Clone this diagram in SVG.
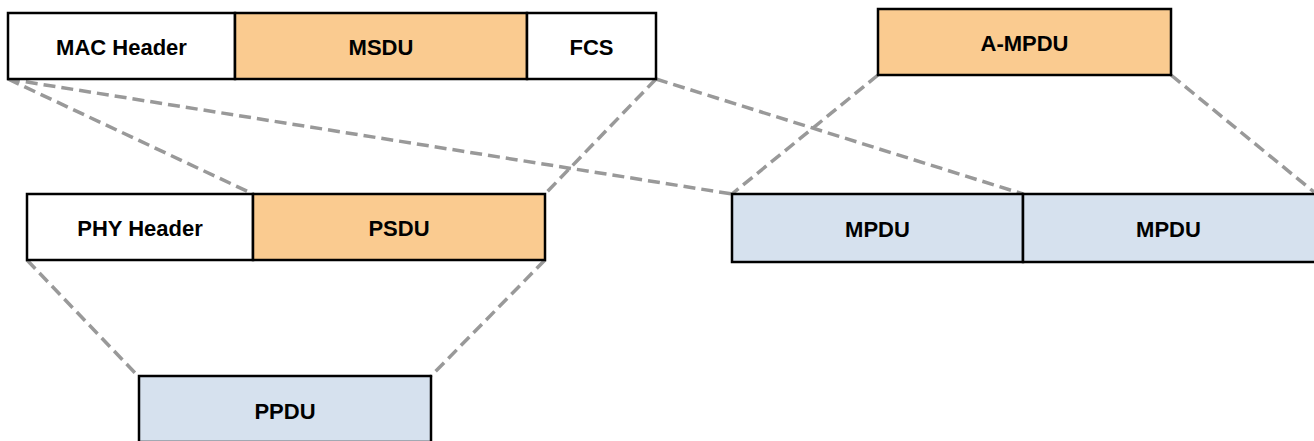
<svg xmlns="http://www.w3.org/2000/svg" width="1314" height="441" viewBox="0 0 1314 441">
<style>
.box{stroke:#000;stroke-width:2.5}
.w{fill:#fff}
.o{fill:#FACB90}
.b{fill:#D6E1EE}
.t{font-family:"Liberation Sans",Arial,sans-serif;font-weight:bold;font-size:22px;fill:#000;text-anchor:middle}
.c{stroke:#999;stroke-width:3.5;stroke-dasharray:12 6;fill:none}
</style>
<rect width="1314" height="441" fill="#fff"/>
<g id="connectors">
<line class="c" x1="8" y1="79" x2="253" y2="194"/>
<line class="c" x1="8" y1="79" x2="732" y2="194"/>
<line class="c" x1="656" y1="79" x2="545" y2="194"/>
<line class="c" x1="656" y1="79" x2="1023" y2="194"/>
<line class="c" x1="878" y1="75" x2="732" y2="194"/>
<line class="c" x1="1171" y1="75" x2="1314" y2="192"/>
<line class="c" x1="27" y1="260" x2="138" y2="376"/>
<line class="c" x1="545" y1="260" x2="431" y2="376"/>
</g>
<g id="mac-header"><rect class="box w" x="8" y="13" width="227" height="66"/><text class="t" x="121.5" y="55">MAC Header</text></g>
<g id="msdu"><rect class="box o" x="235" y="13" width="292" height="66"/><text class="t" x="381" y="55">MSDU</text></g>
<g id="fcs"><rect class="box w" x="527" y="13" width="129" height="66"/><text class="t" x="591.5" y="55">FCS</text></g>
<g id="a-mpdu"><rect class="box o" x="878" y="9" width="293" height="66"/><text class="t" x="1024.5" y="51">A-MPDU</text></g>
<g id="phy-header"><rect class="box w" x="27" y="194" width="226" height="66"/><text class="t" x="140" y="236">PHY Header</text></g>
<g id="psdu"><rect class="box o" x="253" y="194" width="292" height="66"/><text class="t" x="399" y="236">PSDU</text></g>
<g id="mpdu-1"><rect class="box b" x="732" y="194" width="291" height="68"/><text class="t" x="877.5" y="237">MPDU</text></g>
<g id="mpdu-2"><rect class="box b" x="1023" y="194" width="296" height="68"/><text class="t" x="1168.5" y="237">MPDU</text></g>
<g id="ppdu"><rect class="box b" x="139" y="376" width="292" height="66"/><text class="t" x="285" y="419">PPDU</text></g>
</svg>
